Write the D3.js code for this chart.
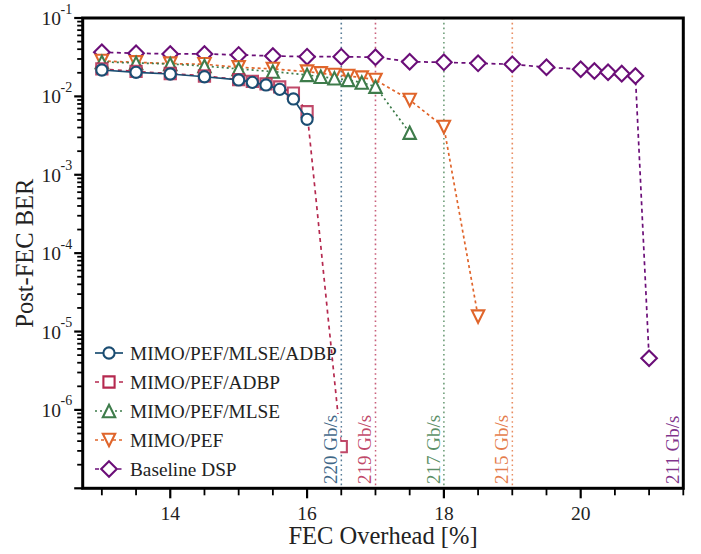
<!DOCTYPE html>
<html><head><meta charset="utf-8">
<script src="https://cdn.jsdelivr.net/npm/d3@7"></script>
<style>
body{margin:0;background:#fff}
svg{display:block}
svg text{font-family:"Liberation Serif","Times New Roman",Times,"DejaVu Serif",serif;}
</style>
</head><body><svg id="c" width="701" height="554"></svg>
<script>
// ---- data ----
const seriesNames = ["MIMO/PEF/MLSE/ADBP", "MIMO/PEF/ADBP", "MIMO/PEF/MLSE", "MIMO/PEF", "Baseline DSP"];
const seriesColors = ["#1b4d72", "#b5294f", "#3e7c4b", "#e0652b", "#6b0e78"];

const xMlseAdbp = [13, 13.5, 14, 14.5, 15, 15.2, 15.4, 15.6, 15.8, 16.0];
const yMlseAdbp = [0.0217, 0.0203, 0.0193, 0.0178, 0.0162, 0.0151, 0.0140, 0.0123, 0.00927, 0.0051];

const xAdbp = [13, 13.5, 14, 14.5, 15, 15.2, 15.4, 15.6, 15.8, 16.0, 16.5];
const yAdbp = [0.0224, 0.0208, 0.0196, 0.0182, 0.0164, 0.0155, 0.0144, 0.0132, 0.0110, 0.00638, 3.4e-7];

const xMlse = [13, 13.5, 14, 14.5, 15, 15.5, 16, 16.2, 16.4, 16.6, 16.8, 17.0, 17.5];
const yMlse = [0.0275, 0.0267, 0.0259, 0.0244, 0.0224, 0.0207, 0.0188, 0.0178, 0.0170, 0.0162, 0.0150, 0.0133, 0.00344];

const xPef = [13, 13.5, 14, 14.5, 15, 15.5, 16, 16.2, 16.4, 16.6, 16.8, 17.0, 17.5, 18.0, 18.5];
const yPef = [0.0283, 0.0272, 0.0262, 0.0257, 0.0235, 0.0224, 0.0207, 0.0197, 0.0188, 0.0182, 0.0174, 0.0162, 0.0090, 0.00407, 1.55e-5];

const xBase = [13, 13.5, 14, 14.5, 15, 15.5, 16, 16.5, 17, 17.5, 18, 18.5, 19, 19.5, 20, 20.2, 20.4, 20.6, 20.8, 21.0];
const yBase = [0.0365, 0.0355, 0.0348, 0.0348, 0.0338, 0.0328, 0.0321, 0.0321, 0.0316, 0.0277, 0.0272, 0.0264, 0.0257, 0.0235, 0.0222, 0.0211, 0.0203, 0.0195, 0.0182, 4.56e-6];

const rateOverheads = [16.5, 17.0, 18.0, 19.0, 21.5];
const rateLabels = ["220 Gb/s", "219 Gb/s", "217 Gb/s", "215 Gb/s", "211 Gb/s"];
const rateSeries = [0, 1, 2, 3, 4];

const xTickLabels = [14, 16, 18, 20];
const yTickExponents = [-1, -2, -3, -4, -5, -6];
const xLabel = "FEC Overhead [%]";
const yLabel = "Post-FEC BER";

// ---- layout ----
const svg = d3.select("#c");
const L = 82.7, R = 683.3, T = 18, B = 488.3;
const x = d3.scaleLinear().domain([12.72, 21.5]).range([L, R]);
const y = d3.scaleLog().domain([1e-7, 1e-1]).range([B, T]);

const series = [
  {xs: xMlseAdbp, ys: yMlseAdbp, marker: "circle", dash: null},
  {xs: xAdbp, ys: yAdbp, marker: "square", dash: "4,4"},
  {xs: xMlse, ys: yMlse, marker: "tri-up", dash: "2,3"},
  {xs: xPef, ys: yPef, marker: "tri-down", dash: "3,3"},
  {xs: xBase, ys: yBase, marker: "diamond", dash: "4,3.5"}
];

function markerPath(type) {
  switch (type) {
    case "circle": { const r = 5.6; return `M${r},0A${r},${r} 0 1,1 ${-r},0A${r},${r} 0 1,1 ${r},0Z`; }
    case "square": { const s = 5.6; return `M${-s},${-s}L${s},${-s}L${s},${s}L${-s},${s}Z`; }
    case "tri-up": { const w = 6.2, h = 6.2; return `M0,${-h}L${w},${h}L${-w},${h}Z`; }
    case "tri-down": { const w = 6.2, h = 6.2; return `M0,${h}L${w},${-h}L${-w},${-h}Z`; }
    case "diamond": { const d = 7.8; return `M0,${-d}L${d},0L0,${d}L${-d},0Z`; }
  }
}

// rate vertical lines
const gLines = svg.append("g");
rateOverheads.forEach((v, i) => {
  gLines.append("line")
    .attr("x1", x(v)).attr("x2", x(v)).attr("y1", T).attr("y2", B)
    .attr("stroke", seriesColors[rateSeries[i]]).attr("stroke-opacity", 0.75)
    .attr("stroke-width", 1.6).attr("stroke-dasharray", "1.6,3.2");
});

// series (draw in reverse order so first series on top)
const gData = svg.append("g");
for (let si = series.length - 1; si >= 0; si--) {
  const s = series[si];
  const pts = s.xs.map((xv, i) => [x(xv), y(s.ys[i])]);
  gData.append("path")
    .attr("d", d3.line()(pts))
    .attr("fill", "none")
    .attr("stroke", seriesColors[si])
    .attr("stroke-width", 1.7)
    .attr("stroke-dasharray", s.dash);
  gData.selectAll(null).data(pts).enter().append("path")
    .attr("d", markerPath(s.marker))
    .attr("transform", d => `translate(${d[0]},${d[1]})`)
    .attr("fill", "#fff")
    .attr("stroke", seriesColors[si])
    .attr("stroke-opacity", si === 1 ? 0.85 : 1)
    .attr("stroke-width", 2.1);
}

// rate labels
const gLab = svg.append("g");
rateOverheads.forEach((v, i) => {
  const g = gLab.append("g").attr("transform", `translate(${x(v) - 4},484) rotate(-90)`);
  const rect = g.append("rect").attr("fill", "#fff");
  const t = g.append("text").attr("x", 0).attr("y", 0)
    .attr("font-size", 19)
    .attr("fill", seriesColors[rateSeries[i]]).attr("fill-opacity", 0.85)
    .text(rateLabels[i]);
  const bb = t.node().getBBox();
  rect.attr("x", bb.x - 1).attr("width", bb.width + 2).attr("y", -14).attr("height", 17);
});

// legend
const gLeg = svg.append("g");
series.forEach((s, i) => {
  const yy = 353 + i * 29;
  gLeg.append("line").attr("x1", 95).attr("x2", 123).attr("y1", yy).attr("y2", yy)
    .attr("stroke", seriesColors[i]).attr("stroke-width", 1.7).attr("stroke-dasharray", s.dash);
  gLeg.append("path").attr("d", markerPath(s.marker)).attr("transform", `translate(109,${yy})`)
    .attr("fill", "#fff").attr("stroke", seriesColors[i]).attr("stroke-width", 2.1);
  gLeg.append("text").attr("x", 130).attr("y", yy + 6.5)
    .attr("font-size", 19.3).attr("fill", "#222")
    .text(seriesNames[i]);
});

// axes ticks
const gAx = svg.append("g");
for (let v = 13; v <= 21.5 + 1e-9; v += 0.5) {
  const major = xTickLabels.includes(v);
  gAx.append("line").attr("x1", x(v)).attr("x2", x(v)).attr("y1", B).attr("y2", B + (major ? 10 : 7))
    .attr("stroke", "#000").attr("stroke-width", major ? 2.2 : 1.8);
}
xTickLabels.forEach(v => {
  gAx.append("text").attr("x", x(v)).attr("y", 520).attr("text-anchor", "middle")
    .attr("font-size", 19.5).attr("fill", "#222").text(v);
});
for (let k = -7; k <= -1; k++) {
  const v = Math.pow(10, k);
  gAx.append("line").attr("x1", L).attr("x2", L - 8.5).attr("y1", y(v)).attr("y2", y(v))
    .attr("stroke", "#000").attr("stroke-width", 2.2);
  if (k < -1) {
    for (let m = 2; m <= 9; m++) {
      const vm = m * v;
      gAx.append("line").attr("x1", L).attr("x2", L - 5.5).attr("y1", y(vm)).attr("y2", y(vm))
        .attr("stroke", "#000").attr("stroke-width", 1.8);
    }
  }
}
yTickExponents.forEach(k => {
  const yy = y(Math.pow(10, k));
  gAx.append("text").attr("x", 61).attr("y", yy + 7).attr("text-anchor", "end")
    .attr("font-size", 19.5).attr("fill", "#222").text("10");
  gAx.append("text").attr("x", 60.5).attr("y", yy - 4.5).attr("text-anchor", "start")
    .attr("font-size", 14).attr("fill", "#222").text(String(k));
});

// axis labels
svg.append("text").attr("x", (L + R) / 2).attr("y", 544).attr("text-anchor", "middle")
  .attr("font-size", 24.5).attr("fill", "#222").text(xLabel);
svg.append("text").attr("transform", `translate(33,${(T + B) / 2}) rotate(-90)`).attr("text-anchor", "middle")
  .attr("font-size", 24.5).attr("fill", "#222").text(yLabel);

// frame
svg.append("rect").attr("x", L).attr("y", T).attr("width", R - L).attr("height", B - T)
  .attr("fill", "none").attr("stroke", "#000").attr("stroke-width", 3);
</script></body></html>
